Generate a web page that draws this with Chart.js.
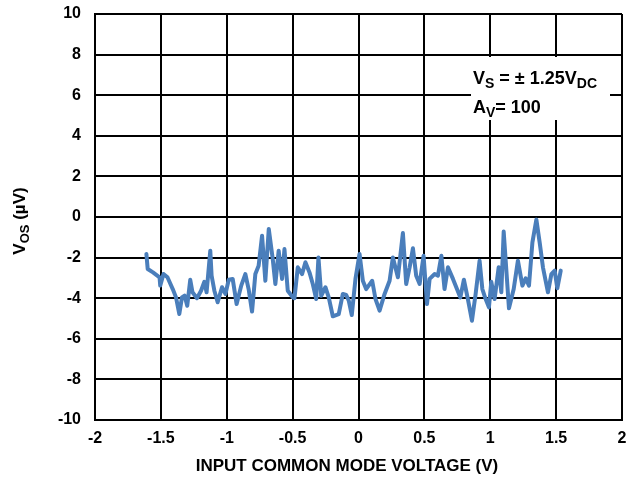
<!DOCTYPE html>
<html>
<head>
<meta charset="utf-8">
<script src="https://cdn.jsdelivr.net/npm/chart.js@4.4.0/dist/chart.umd.min.js"></script>
<style>
  body { margin: 0; background: #fff; }
  #wrap { width: 628px; height: 481px; }
</style>
</head>
<body>
<div id="wrap"><canvas id="vosChart" width="628" height="481"></canvas></div>
<script>
  // input common mode voltage (V)
  const vcm = [
    -1.61, -1.60, -1.56, -1.51, -1.505, -1.48, -1.45, -1.41, -1.385, -1.36,
    -1.34, -1.32, -1.30, -1.277, -1.26, -1.226, -1.195, -1.17, -1.153, -1.125,
    -1.115, -1.094, -1.069, -1.036, -1.01, -0.985, -0.955, -0.925, -0.89, -0.859,
    -0.834, -0.808, -0.783, -0.758, -0.732, -0.707, -0.681, -0.651, -0.631, -0.606,
    -0.58, -0.562, -0.537, -0.499, -0.486, -0.461, -0.428, -0.403, -0.372, -0.347,
    -0.321, -0.304, -0.283, -0.251, -0.226, -0.195, -0.15, -0.119, -0.093, -0.074,
    -0.051, -0.023, 0.008, 0.033, 0.058, 0.104, 0.129, 0.16, 0.198, 0.236,
    0.261, 0.299, 0.337, 0.362, 0.388, 0.413, 0.438, 0.464, 0.494, 0.52,
    0.54, 0.578, 0.603, 0.629, 0.653, 0.679, 0.717, 0.773, 0.80, 0.83,
    0.861, 0.889, 0.919, 0.94, 0.965, 0.99, 1.008, 1.033, 1.064, 1.084,
    1.102, 1.142, 1.178, 1.21, 1.244, 1.269, 1.294, 1.32, 1.35, 1.375,
    1.40, 1.438, 1.464, 1.489, 1.509, 1.535
  ];
  // offset voltage (µV)
  const vos = [
    -1.82, -2.56, -2.73, -2.97, -3.38, -2.81, -2.97, -3.55, -3.96, -4.78,
    -3.96, -3.87, -4.37, -3.09, -3.71, -4.00, -3.63, -3.19, -3.71, -1.66,
    -2.89, -3.63, -4.20, -3.46, -3.79, -3.09, -3.05, -4.29, -3.38, -2.81,
    -3.55, -4.66, -2.81, -2.40, -0.92, -3.14, -0.59, -2.07, -3.30, -1.66,
    -3.05, -1.58, -3.63, -3.95, -4.00, -2.48, -2.81, -2.23, -2.73, -3.30,
    -4.04, -1.99, -3.88, -3.46, -3.96, -4.89, -4.78, -3.79, -3.84, -4.12,
    -4.83, -3.05, -1.82, -3.14, -3.55, -3.14, -4.04, -4.61, -3.79, -3.14,
    -1.99, -2.97, -0.79, -3.30, -2.48, -1.54, -2.89, -3.30, -1.91, -4.29,
    -3.05, -2.81, -2.89, -1.91, -3.55, -2.48, -3.05, -3.96, -3.09, -4.04,
    -5.11, -3.79, -2.15, -3.55, -4.04, -4.45, -3.19, -4.04, -2.48, -3.71,
    -0.72, -4.50, -3.55, -2.15, -3.38, -3.02, -3.38, -1.25, -0.13, -1.25,
    -2.48, -3.71, -2.81, -2.64, -3.51, -2.64
  ];

  const xTicks = [-2, -1.5, -1, -0.5, 0, 0.5, 1, 1.5, 2];
  const yTicks = [-10, -8, -6, -4, -2, 0, 2, 4, 6, 8, 10];

  const FONT = "Arial, 'Liberation Sans', sans-serif";

  // draws a run of text pieces, some of them as subscripts
  function drawRuns(ctx, runs, x, y) {
    runs.forEach(r => {
      ctx.font = 'bold ' + r[1] + 'px ' + FONT;
      ctx.fillText(r[0], x, y + (r[2] || 0));
      x += ctx.measureText(r[0]).width;
    });
  }
  function runsWidth(ctx, runs) {
    let w = 0;
    runs.forEach(r => {
      ctx.font = 'bold ' + r[1] + 'px ' + FONT;
      w += ctx.measureText(r[0]).width;
    });
    return w;
  }

  const labelsPlugin = {
    id: 'labels',
    beforeDatasetsDraw(chart) {
      const ctx = chart.ctx;
      ctx.save();
      // white box for the conditions
      ctx.fillStyle = '#fff';
      ctx.fillRect(471, 57, 139, 63);
      ctx.fillStyle = '#000';
      ctx.textBaseline = 'alphabetic';
      ctx.textAlign = 'left';
      drawRuns(ctx, [['V', 18], ['S', 14, 4], [' = \u00b1 1.25V', 18], ['DC', 14, 4]], 473, 84);
      drawRuns(ctx, [['A', 18], ['V', 14, 4], ['= 100', 18]], 473, 113);
      ctx.restore();
    },
    afterDraw(chart) {
      const ctx = chart.ctx;
      const area = chart.chartArea;
      ctx.save();
      ctx.fillStyle = '#000';
      ctx.textBaseline = 'alphabetic';
      ctx.textAlign = 'left';
      // x axis title
      const xt = [['INPUT COMMON MODE VOLTAGE (V)', 17]];
      drawRuns(ctx, xt, 347 - runsWidth(ctx, xt) / 2, 471);
      // y axis title, rotated
      const yt = [['V', 17], ['OS', 13, 4], [' (\u00b5V)', 17]];
      const w = runsWidth(ctx, yt);
      ctx.translate(25, (area.top + area.bottom) / 2 + 4);
      ctx.rotate(-Math.PI / 2);
      drawRuns(ctx, yt, -w / 2, 0);
      ctx.restore();
    }
  };

  new Chart(document.getElementById('vosChart'), {
    type: 'line',
    data: {
      datasets: [{
        data: vcm.map((v, i) => ({ x: v, y: vos[i] })),
        borderColor: '#4a7ebb',
        borderWidth: 4,
        pointRadius: 0,
        tension: 0,
        borderJoinStyle: 'round',
        borderCapStyle: 'round'
      }]
    },
    options: {
      responsive: false,
      animation: false,
      layout: { padding: { top: 14, right: 6, left: 0, bottom: 0 } },
      plugins: { legend: { display: false }, tooltip: { enabled: false } },
      scales: {
        x: {
          type: 'linear',
          min: -2,
          max: 2,
          afterBuildTicks: s => { s.ticks = xTicks.map(v => ({ value: v })); },
          afterFit: s => { s.height = 61; s.paddingLeft = 0; s.paddingRight = 0; },
          ticks: {
            color: '#000',
            font: { family: FONT, size: 16, weight: 'bold' },
            padding: 9,
            maxRotation: 0,
            callback: v => String(v)
          },
          grid: { color: '#000', lineWidth: 2, drawTicks: false },
          border: { color: '#000', width: 2 }
        },
        y: {
          min: -10,
          max: 10,
          afterBuildTicks: s => { s.ticks = yTicks.map(v => ({ value: v })); },
          afterFit: s => { s.width = 95; s.paddingTop = 0; s.paddingBottom = 0; },
          ticks: {
            color: '#000',
            font: { family: FONT, size: 16, weight: 'bold' },
            padding: 14,
            callback: v => String(v)
          },
          grid: { color: '#000', lineWidth: 2, drawTicks: false },
          border: { color: '#000', width: 2 }
        }
      }
    },
    plugins: [labelsPlugin]
  });
</script>
</body>
</html>
